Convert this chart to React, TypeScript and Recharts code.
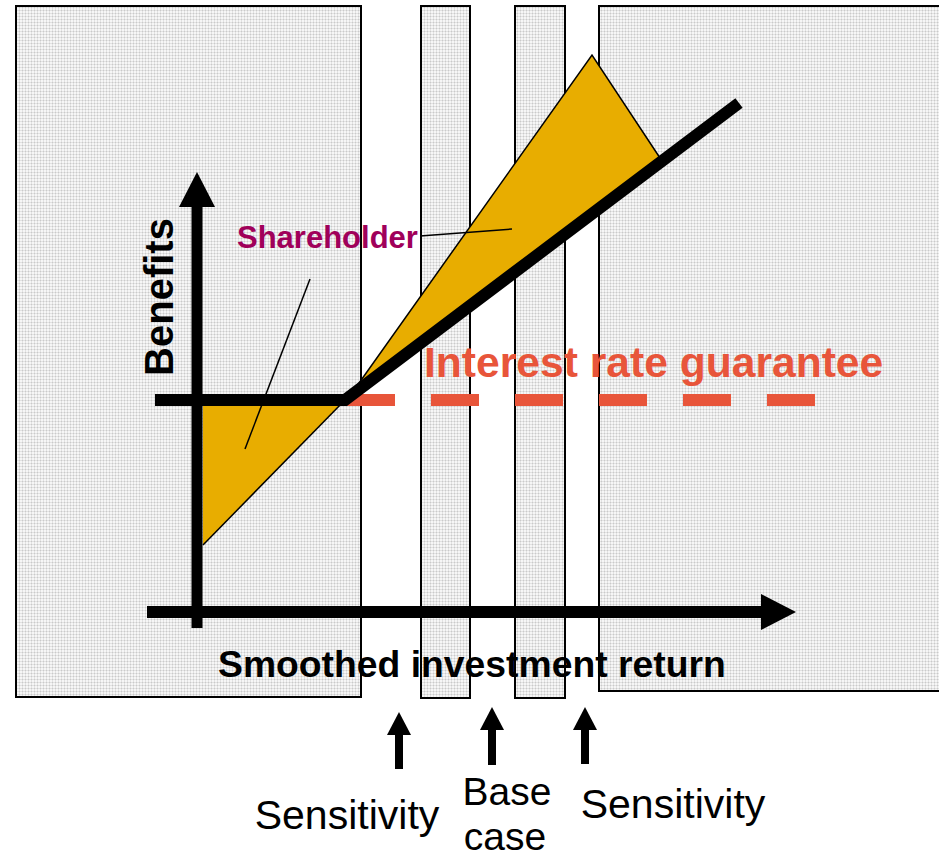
import { ComposedChart, XAxis, YAxis, Line, Area, Scatter, ReferenceArea } from 'recharts'

const W = 939
const H = 860
const FONT = '"Liberation Sans", Arial, sans-serif'

// diagram units: x = smoothed investment return, y = benefits (screen-like, top = 0)
const bandNames = ['downside', 'sensitivityLow', 'sensitivityHigh', 'upside']
const bandFrom = [16, 421, 515, 599]
const bandTo = [361, 470, 565, 945]
const bandTop = [6, 6, 6, 6]
const bandBottom = [697, 698, 698, 691]

const benefitPath = [
  { x: 155, y: 400 },
  { x: 345, y: 400 },
  { x: 739, y: 103 },
]
const guaranteeLevel = [
  { x: 347, y: 400 },
  { x: 815, y: 400 },
]
const shortfallArea = [
  { x: 203, range: [545, 400] },
  { x: 345, range: [400, 400] },
]
const upsideArea = [
  { x: 347, range: [400, 400] },
  { x: 592, range: [214, 55] },
  { x: 662, range: [161, 161] },
]
const leaderTop = [
  { x: 420, y: 236 },
  { x: 512, y: 229 },
]
const leaderLeft = [
  { x: 310, y: 279 },
  { x: 245, y: 449 },
]

const yAxisShaft = [
  { x: 197, y: 628 },
  { x: 197, y: 204 },
]
const xAxisShaft = [
  { x: 147, y: 612 },
  { x: 763, y: 612 },
]
const yAxisTip = [{ x: 197, y: 172 }]
const xAxisTip = [{ x: 796, y: 612 }]

const markerX = [399, 492, 585]
const markerTip = [712, 707, 707]
const markerFoot = [769, 765, 764]

const boldLabels = [{ x: 218, y: 677, text: 'Smoothed investment return' }]
const guaranteeLabel = [{ x: 424, y: 377, text: 'Interest rate guarantee' }]
const shareholderLabel = [{ x: 237, y: 248, text: 'Shareholder' }]
const benefitsLabel = [{ x: 173, y: 297, text: 'Benefits' }]
const sensitivityLabels = [
  { x: 347, y: 829, text: 'Sensitivity' },
  { x: 673, y: 818, text: 'Sensitivity' },
]
const baseCaseLabels = [
  { x: 507, y: 805, text: 'Base' },
  { x: 505, y: 850, text: 'case' },
]

const upHead = (size: number, len: number) => (p: any) => (
  <polygon
    points={`${p.cx},${p.cy} ${p.cx - size},${p.cy + len} ${p.cx + size},${p.cy + len}`}
    fill="#000"
  />
)
const rightHead = (p: any) => (
  <polygon points={`${p.cx},${p.cy} ${p.cx - 35},${p.cy - 18} ${p.cx - 35},${p.cy + 18}`} fill="#000" />
)

const textShape =
  (style: { size: number; weight: string; color: string; anchor?: string; rotate?: boolean }) =>
  (p: any) => (
    <text
      x={p.cx}
      y={p.cy}
      fontFamily={FONT}
      fontSize={style.size}
      fontWeight={style.weight}
      fill={style.color}
      textAnchor={style.anchor ?? 'start'}
      transform={style.rotate ? `rotate(-90 ${p.cx} ${p.cy})` : undefined}
    >
      {p.payload.text}
    </text>
  )

export default function App() {
  const markerShafts = markerX.map((x, i) => [
    { x, y: markerFoot[i] },
    { x, y: markerTip[i] + 20 },
  ])
  const markerHeads = markerX.map((x, i) => ({ x, y: markerTip[i] }))

  return (
    <div style={{ position: 'absolute', left: 0, top: 0, width: W, height: H, background: '#fff' }}>
      <ComposedChart width={W} height={H} margin={{ top: 0, right: 0, bottom: 0, left: 0 }}>
        <defs>
          <pattern id="dots" width="3" height="3" patternUnits="userSpaceOnUse">
            <rect width="3" height="3" fill="#f6f6f6" />
            <rect x="1" y="0" width="1" height="3" fill="#e2e2e2" />
            <rect x="0" y="1" width="3" height="1" fill="#e2e2e2" />
            <rect x="1" y="1" width="1" height="1" fill="#cacaca" />
          </pattern>
        </defs>
        <XAxis type="number" dataKey="x" domain={[0, W]} allowDataOverflow hide />
        <YAxis type="number" dataKey="y" domain={[0, H]} allowDataOverflow reversed hide />

        {bandNames.map((n, i) => (
          <ReferenceArea
            key={n}
            x1={bandFrom[i]}
            x2={bandTo[i]}
            y1={bandTop[i]}
            y2={bandBottom[i]}
            ifOverflow="visible"
            fill="url(#dots)"
            fillOpacity={1}
            stroke="#000"
            strokeWidth={2}
            zIndex={0}
          />
        ))}

        <Area
          data={shortfallArea}
          dataKey="range"
          type="linear"
          fill="#e8ad00"
          fillOpacity={1}
          stroke="#000"
          strokeWidth={1.5}
          isAnimationActive={false}
          dot={false}
          activeDot={false}
        />
        <Area
          data={upsideArea}
          dataKey="range"
          type="linear"
          fill="#e8ad00"
          fillOpacity={1}
          stroke="#000"
          strokeWidth={1.5}
          isAnimationActive={false}
          dot={false}
          activeDot={false}
        />

        <Line
          data={guaranteeLevel}
          dataKey="y"
          type="linear"
          stroke="#e8553a"
          strokeWidth={12}
          strokeDasharray="48 36"
          dot={false}
          activeDot={false}
          isAnimationActive={false}
        />
        <Line
          data={benefitPath}
          dataKey="y"
          type="linear"
          stroke="#000"
          strokeWidth={12}
          strokeLinejoin="miter"
          dot={false}
          activeDot={false}
          isAnimationActive={false}
        />
        <Line data={yAxisShaft} dataKey="y" stroke="#000" strokeWidth={11} dot={false} activeDot={false} isAnimationActive={false} />
        <Line data={xAxisShaft} dataKey="y" stroke="#000" strokeWidth={12} dot={false} activeDot={false} isAnimationActive={false} />
        {markerShafts.map((d, i) => (
          <Line key={i} data={d} dataKey="y" stroke="#000" strokeWidth={8} dot={false} activeDot={false} isAnimationActive={false} />
        ))}
        <Line data={leaderTop} dataKey="y" stroke="#000" strokeWidth={1.5} dot={false} activeDot={false} isAnimationActive={false} />
        <Line data={leaderLeft} dataKey="y" stroke="#000" strokeWidth={1.5} dot={false} activeDot={false} isAnimationActive={false} />

        <Scatter data={yAxisTip} shape={upHead(18, 35)} isAnimationActive={false} />
        <Scatter data={xAxisTip} shape={rightHead} isAnimationActive={false} />
        <Scatter data={markerHeads} shape={upHead(12, 23)} isAnimationActive={false} />

        <Scatter data={boldLabels} shape={textShape({ size: 37.3, weight: 'bold', color: '#000' })} isAnimationActive={false} />
        <Scatter data={guaranteeLabel} shape={textShape({ size: 42.6, weight: 'bold', color: '#e8553a' })} isAnimationActive={false} />
        <Scatter data={shareholderLabel} shape={textShape({ size: 31, weight: 'bold', color: '#a0005a' })} isAnimationActive={false} />
        <Scatter data={benefitsLabel} shape={textShape({ size: 40, weight: 'bold', color: '#000', anchor: 'middle', rotate: true })} isAnimationActive={false} />
        <Scatter data={sensitivityLabels} shape={textShape({ size: 41, weight: 'normal', color: '#000', anchor: 'middle' })} isAnimationActive={false} />
        <Scatter data={baseCaseLabels} shape={textShape({ size: 39, weight: 'normal', color: '#000', anchor: 'middle' })} isAnimationActive={false} />
      </ComposedChart>
    </div>
  )
}
